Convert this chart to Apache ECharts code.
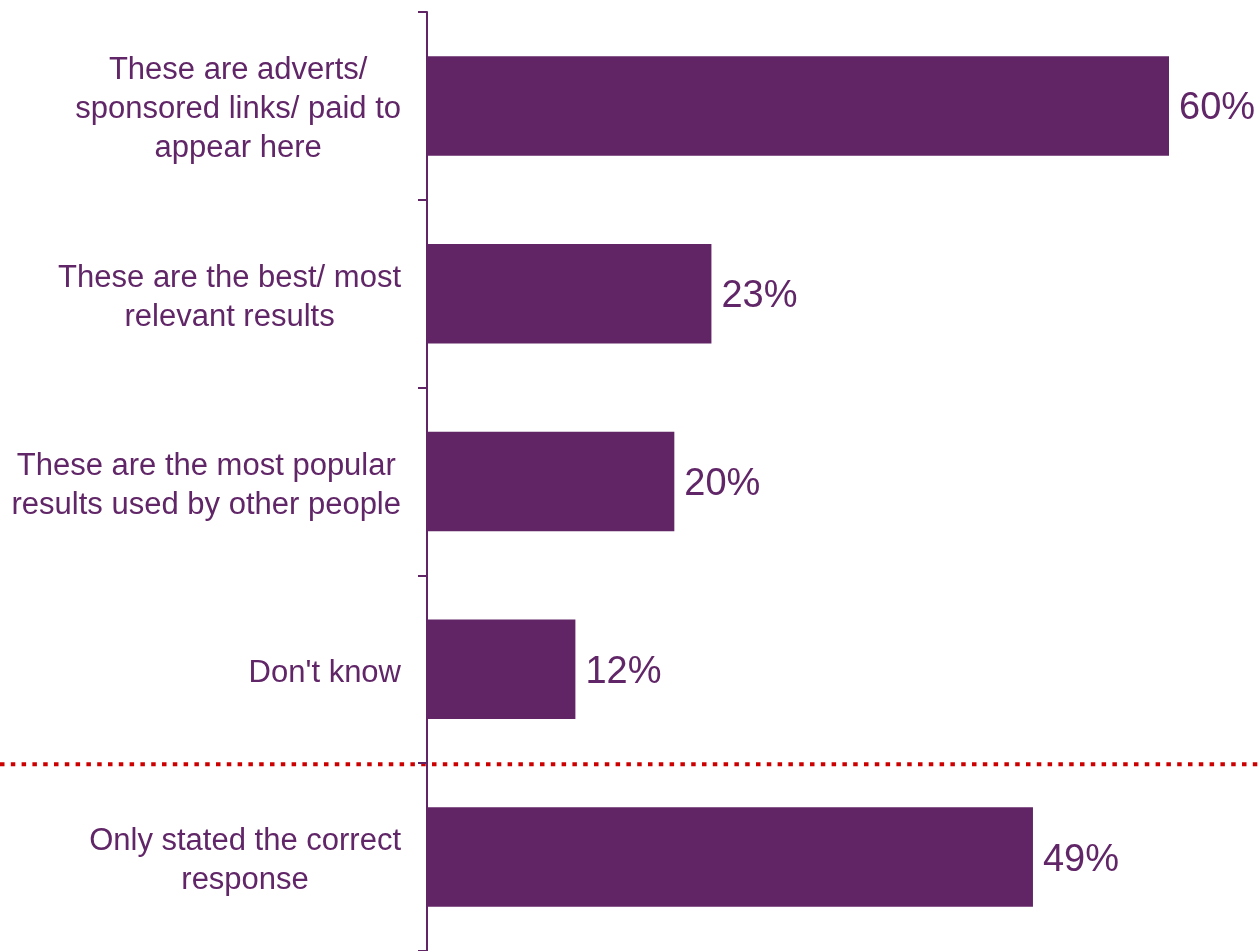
<!DOCTYPE html>
<html>
<head>
<meta charset="utf-8">
<script src="https://cdn.jsdelivr.net/npm/echarts@6/dist/echarts.min.js"></script>
<style>
  html, body { margin: 0; padding: 0; background: #ffffff; }
  #chart { width: 1260px; height: 951px; }
</style>
</head>
<body>
<div id="chart"></div>
<script>
// Responses, top to bottom
const categories = [
  'These are adverts/\nsponsored links/ paid to\nappear here',
  'These are the best/ most\nrelevant results',
  'These are the most popular\nresults used by other people',
  "Don't know",
  'Only stated the correct\nresponse'
];
// Share of respondents, %
const values = [60, 23, 20, 12, 49];

const purple = '#612566';
const textPurple = '#612667';

const chart = echarts.init(document.getElementById('chart'));

chart.setOption({
  animation: false,
  grid: { left: 427, right: 91, top: 12, bottom: 0, containLabel: false },
  xAxis: {
    type: 'value',
    min: 0,
    max: 60,
    show: false
  },
  yAxis: {
    type: 'category',
    data: categories,
    inverse: true,
    axisLine: { show: true, lineStyle: { color: purple, width: 2 } },
    axisTick: { show: true, length: 9, lineStyle: { color: purple, width: 2 } },
    axisLabel: {
      margin: 26,
      align: 'right',
      padding: [8, 0, 0, 0],
      // each line is centred within its label block
      formatter: function (v) {
        return v.split('\n').map(function (s) { return '{c|' + s + '}'; }).join('\n');
      },
      rich: {
        c: {
          align: 'center',
          color: textPurple,
          fontFamily: 'Liberation Sans, Arial, sans-serif',
          fontSize: 31,
          lineHeight: 39
        }
      }
    },
    splitLine: { show: false }
  },
  series: [{
    type: 'bar',
    data: values,
    barCategoryGap: '47%',
    itemStyle: { color: purple },
    label: {
      show: true,
      position: 'right',
      distance: 10,
      offset: [0, 3],
      formatter: '{c}%',
      color: textPurple,
      fontFamily: 'Liberation Sans, Arial, sans-serif',
      fontSize: 38
    }
  }]
});

// Dotted separator between the answer options and the summary row
const yA = chart.convertToPixel({ yAxisIndex: 0 }, 3);
const yB = chart.convertToPixel({ yAxisIndex: 0 }, 4);
const ySep = (yA + yB) / 2 + 1;
chart.setOption({
  graphic: [{
    type: 'line',
    z: 0,
    shape: { x1: 0, y1: ySep, x2: chart.getWidth(), y2: ySep },
    style: { stroke: '#cc0000', lineWidth: 4, lineDash: [4.5, 6.3] }
  }]
});
</script>
</body>
</html>
